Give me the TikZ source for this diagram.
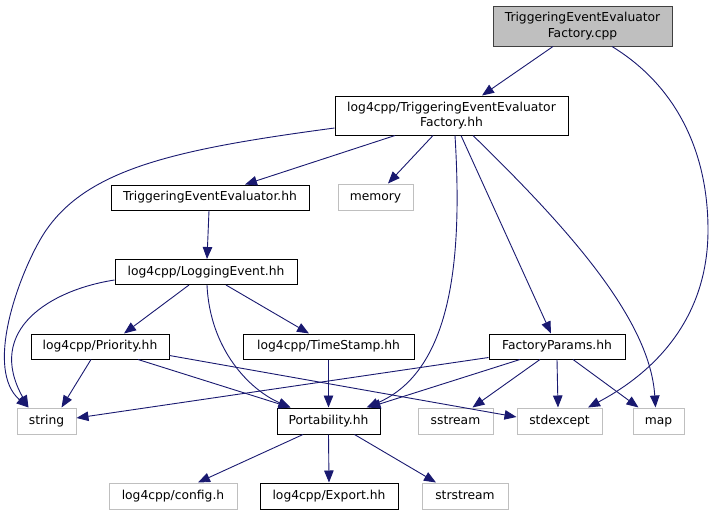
\documentclass[tikz,border=0pt]{standalone}
\usepackage{fontspec}
\setmainfont{DejaVu Sans}
\usetikzlibrary{arrows.meta}
\definecolor{edgec}{HTML}{191970}
\definecolor{lgray}{HTML}{BFBFBF}
\definecolor{dgray}{HTML}{404040}
\tikzset{
  basebox/.style={draw=black, fill=white, line width=1pt, inner sep=0pt,
    font=\fontsize{12.3}{15.5}\selectfont},
  twoline/.style={basebox, align=center},
  fbox/.style={basebox, minimum height=25pt, text height=9pt, text depth=2.5pt},
  sysbox/.style={fbox, draw=lgray},
  rootbox/.style={twoline, draw=dgray, fill=lgray},
  dep/.style={draw=edgec, line width=0.9pt, -{Triangle[length=12pt,width=9.5pt]}, fill=none},
}
\begin{document}
\begin{tikzpicture}[x=1pt,y=-1pt]
\useasboundingbox (0,0) rectangle (718,515);
% nodes
\node[rootbox, minimum width=179pt, minimum height=40pt] (cpp) at (582.5,26) {TriggeringEventEvaluator\\Factory.cpp};
\node[twoline, minimum width=233pt, minimum height=39pt] (hh) at (451.5,115.5) {log4cpp/TriggeringEventEvaluator\\Factory.hh};
\node[fbox, minimum width=198pt] (tee) at (210,197.5) {TriggeringEventEvaluator.hh};
\node[sysbox, minimum width=75pt, minimum height=26pt] (memory) at (375.5,197) {memory};
\node[fbox, minimum width=182pt] (le) at (206,272) {log4cpp/LoggingEvent.hh};
\node[fbox, minimum width=138pt] (prio) at (100,346.5) {log4cpp/Priority.hh};
\node[fbox, minimum width=171pt] (ts) at (328.5,346.5) {log4cpp/TimeStamp.hh};
\node[fbox, minimum width=136pt] (fp) at (557,346.5) {FactoryParams.hh};
\node[sysbox, minimum width=59pt, minimum height=26pt] (string) at (46.5,421) {string};
\node[fbox, minimum width=103pt, minimum height=26pt] (port) at (328.5,421) {Portability.hh};
\node[sysbox, minimum width=75pt, minimum height=26pt] (sstream) at (455.5,421) {sstream};
\node[sysbox, minimum width=85pt, minimum height=26pt] (stdexcept) at (559.5,421) {stdexcept};
\node[sysbox, minimum width=51pt, minimum height=26pt] (map) at (658.5,421) {map};
\node[sysbox, minimum width=128pt, minimum height=26pt] (config) at (173,496) {log4cpp/config.h};
\node[fbox, minimum width=138pt, minimum height=26pt] (export) at (329,496) {log4cpp/Export.hh};
\node[sysbox, minimum width=86pt, minimum height=26pt] (strstream) at (465,496) {strstream};
% edges
\draw[dep] ([xshift=-29.5pt]cpp.south) -- ([xshift=30.5pt]hh.north);
\draw[dep] ([xshift=29.5pt]cpp.south) .. controls (675,85) and (708,150) .. (708,230)
  .. controls (708,330) and (640,380) .. ([xshift=28.5pt]stdexcept.north);
\draw[dep] ([yshift=-12.5pt]hh.west) .. controls (170,150) and (80,170) .. (40,240)
  .. controls (17,280) and (-15,370) .. ([xshift=-18pt]string.north);
\draw[dep] ([xshift=-56.5pt]hh.south) -- ([xshift=35pt]tee.north);
\draw[dep] ([xshift=-18.5pt]hh.south) -- ([xshift=12.5pt]memory.north);
\draw[dep] ([xshift=3.5pt]hh.south) .. controls (462,250) and (455,370) .. ([xshift=38pt]port.north);
\draw[dep] ([xshift=9.5pt]hh.south) -- ([xshift=-6pt]fp.north);
\draw[dep] ([xshift=21.5pt]hh.south) .. controls (570,230) and (650,320) .. ([xshift=-3pt]map.north);
\draw[dep] ([xshift=-1pt]tee.south) -- ([xshift=1pt]le.north);
\draw[dep] ([yshift=-8pt]le.west) .. controls (50,290) and (-15,330) .. ([xshift=-18pt]string.north);
\draw[dep] ([xshift=-17pt]le.south) -- ([xshift=24pt]prio.north);
\draw[dep] ([xshift=20pt]le.south) -- ([xshift=-19.5pt]ts.north);
\draw[dep] ([xshift=1pt]le.south) .. controls (210,350) and (250,390) .. ([xshift=-38pt]port.north);
\draw[dep] ([xshift=-9pt]prio.south) -- ([xshift=15pt]string.north);
\draw[dep] ([xshift=38pt]prio.south) -- ([xshift=-38pt]port.north);
\draw[dep] ([yshift=-9pt]prio.east) -- ([yshift=4pt]stdexcept.west);
\draw[dep] (ts.south) -- (port.north);
\draw[dep] ([yshift=-11pt]fp.west) -- ([yshift=3pt]string.east);
\draw[dep] ([xshift=-37pt]fp.south) -- ([xshift=40pt]port.north);
\draw[dep] ([xshift=-17pt]fp.south) -- ([xshift=17pt]sstream.north);
\draw[dep] (fp.south) -- ([xshift=-1.5pt]stdexcept.north);
\draw[dep] ([xshift=16pt]fp.south) -- ([xshift=-20pt]map.north);
\draw[dep] ([xshift=-25.5pt]port.south) -- ([xshift=25pt]config.north);
\draw[dep] (port.south) -- (export.north);
\draw[dep] ([xshift=26pt]port.south) -- ([xshift=-29pt]strstream.north);
\end{tikzpicture}
\end{document}
